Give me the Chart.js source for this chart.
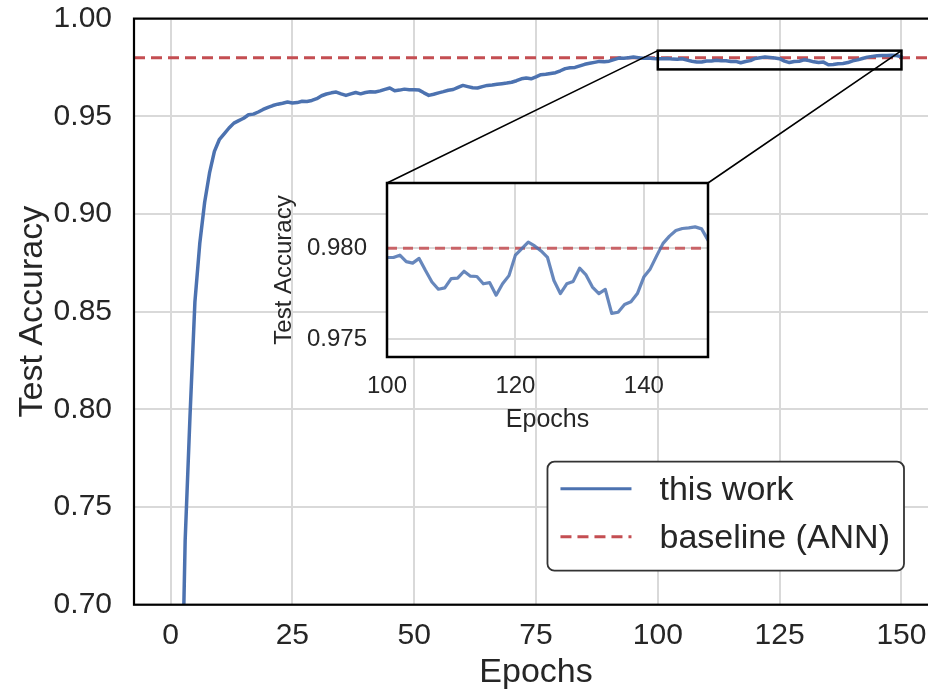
<!DOCTYPE html>
<html><head><meta charset="utf-8">
<script src="https://cdn.jsdelivr.net/npm/chart.js@4.4.0/dist/chart.umd.min.js"></script>
<style>
html,body{margin:0;padding:0;background:#fff;overflow:hidden;width:928px;height:697px;}
#wrap{position:relative;width:928px;height:697px;overflow:hidden;}
#main{position:absolute;left:0;top:0;}
#inset{position:absolute;left:250px;top:170px;}
</style></head><body>
<div id="wrap"><canvas id="main" width="940" height="697"></canvas><canvas id="inset" width="480" height="280"></canvas></div>
<script>
// ---------------- data ----------------
const seriesLabels = ['this work', 'baseline (ANN)'];
const firstEpoch = 1;
const testAccuracy = [
  0.400,0.610,0.733,0.797,0.855,0.885,0.906,0.921,0.932,0.938,
  0.941,0.944,0.9465,0.9478,0.9490,0.9508,0.9511,0.9522,0.9535,0.9546,
  0.9555,0.9562,0.9567,0.9573,0.9568,0.9570,0.9577,0.9576,0.9581,0.9590,
  0.9605,0.9614,0.9620,0.9624,0.9615,0.9607,0.9615,0.9622,0.9615,0.9622,
  0.9626,0.9624,0.9630,0.9638,0.9645,0.9631,0.9634,0.9639,0.9636,0.9636,
  0.9634,0.9620,0.9607,0.9613,0.9620,0.9626,0.9633,0.9637,0.9648,0.9658,
  0.9652,0.9646,0.9645,0.9652,0.9658,0.9660,0.9664,0.9667,0.9670,0.9674,
  0.9682,0.9692,0.9696,0.9692,0.9702,0.9713,0.9715,0.9719,0.9723,0.9733,
  0.9744,0.9748,0.9750,0.9758,0.9766,0.9771,0.9776,0.9781,0.9779,0.9782,
  0.9790,0.9798,0.9797,0.9800,0.9803,0.9800,0.9797,0.9798,0.9796,0.97949,
  0.97949,0.97962,0.97926,0.97918,0.97944,0.97877,0.97814,0.97774,0.97781,0.97832,
  0.97835,0.97873,0.97846,0.97844,0.97804,0.97810,0.97741,0.97804,0.97849,0.97962,
  0.97998,0.98034,0.98013,0.97985,0.97949,0.97822,0.97750,0.97804,0.97817,0.97890,
  0.97853,0.97786,0.97750,0.97773,0.97641,0.97647,0.97690,0.97705,0.97750,0.97841,
  0.97886,0.97958,0.98027,0.98067,0.98098,0.98109,0.98112,0.98118,0.98107,0.98045
];
const epochs = testAccuracy.map((_, i) => firstEpoch + i);
const baselineAccuracy = 0.98;

const mainXTicks = [0, 25, 50, 75, 100, 125, 150];
const mainYTicks = [0.70, 0.75, 0.80, 0.85, 0.90, 0.95, 1.00];
const mainXRange = [-7.5, 157.5];
const mainYRange = [0.70, 1.00];

const insetXTicks = [100, 120, 140];
const insetYTicks = [0.975, 0.980];
const insetXRange = [100, 150];
const insetYRange = [0.9740, 0.9836];

// ---------------- style ----------------
const FONT = "'Liberation Sans', Arial, Helvetica, sans-serif";
const TEXT = '#262626';
const GRID = '#d9d9d9';
const BLUE = '#4C72B0';
const RED = '#C44E52';

const toXY = (xs, ys) => xs.map((x, i) => ({x: x, y: ys[i]}));
const fixedTicks = arr => (s => { s.ticks = arr.map(v => ({value: v})); });
const fitW = w => (s => { s.width = w; s.paddingTop = 0; s.paddingBottom = 0; s.paddingLeft = 0; s.paddingRight = 0; });
const fitH = h => (s => { s.height = h; s.paddingTop = 0; s.paddingBottom = 0; s.paddingLeft = 0; s.paddingRight = 0; });

// ---------------- inset chart ----------------
const insetEpochs = epochs.filter(e => e >= insetXRange[0] && e <= insetXRange[1]);
const insetAcc = testAccuracy.filter((_, i) => epochs[i] >= insetXRange[0] && epochs[i] <= insetXRange[1]);

const insetPlugin = {
  id: 'insetFrame',
  beforeDraw(chart) {
    const {ctx, chartArea: a} = chart;
    ctx.save();
    ctx.fillStyle = '#fff';
    ctx.fillRect(a.left, a.top, a.right - a.left, a.bottom - a.top);
    ctx.restore();
  },
  afterDatasetsDraw(chart) {
    const {ctx, chartArea: a} = chart;
    ctx.save();
    ctx.strokeStyle = '#000';
    ctx.lineWidth = 2.5;
    ctx.strokeRect(a.left, a.top, a.right - a.left, a.bottom - a.top);
    ctx.restore();
  }
};

const insetCanvas = document.getElementById('inset');
const insetChart = new Chart(insetCanvas, {
  type: 'line',
  data: {
    datasets: [
      { label: seriesLabels[0], data: toXY(insetEpochs, insetAcc), borderColor: 'rgba(76,114,176,0.85)', borderWidth: 3.2, pointRadius: 0, tension: 0, borderJoinStyle: 'round', borderCapStyle: 'round' },
      { label: seriesLabels[1], data: toXY(insetXRange, [baselineAccuracy, baselineAccuracy]), borderColor: 'rgba(196,78,82,0.85)', borderWidth: 3, borderDash: [10, 6], pointRadius: 0 }
    ]
  },
  options: {
    responsive: false, animation: false, devicePixelRatio: 1,
    layout: {padding: {left: 0, right: 22, top: 13, bottom: 0}},
    plugins: {legend: {display: false}, tooltip: {enabled: false}},
    scales: {
      x: {
        type: 'linear', min: insetXRange[0], max: insetXRange[1],
        afterBuildTicks: fixedTicks(insetXTicks),
        afterFit: fitH(93),
        grid: {color: GRID, lineWidth: 2, drawTicks: false},
        border: {display: false},
        ticks: {font: {family: FONT, size: 24}, color: TEXT, padding: 15, maxRotation: 0, autoSkip: false, callback: v => String(v)},
        title: {display: true, text: 'Epochs', font: {family: FONT, size: 25}, color: TEXT, padding: {top: 0, bottom: 15}}
      },
      y: {
        type: 'linear', min: insetYRange[0], max: insetYRange[1],
        afterBuildTicks: fixedTicks(insetYTicks),
        afterFit: fitW(137),
        grid: {color: GRID, lineWidth: 2, drawTicks: false},
        border: {display: false},
        ticks: {font: {family: FONT, size: 24}, color: TEXT, padding: 20, autoSkip: false, callback: v => v.toFixed(3)},
        title: {display: true, text: 'Test Accuracy', font: {family: FONT, size: 24}, color: TEXT, padding: {top: 20, bottom: 0}}
      }
    }
  },
  plugins: [insetPlugin]
});

// ---------------- main chart ----------------
const mainPlugin = {
  id: 'mainDecor',
  afterDatasetsDraw(chart) {
    const {ctx, chartArea: a, scales: {x, y}} = chart;
    ctx.save();
    ctx.strokeStyle = '#000';
    ctx.lineWidth = 2.2;
    ctx.strokeRect(a.left, a.top, a.right - a.left, a.bottom - a.top);
    const bx1 = x.getPixelForValue(insetXRange[0]), bx2 = x.getPixelForValue(insetXRange[1]);
    const by1 = y.getPixelForValue(insetYRange[1]), by2 = y.getPixelForValue(insetYRange[0]);
    ctx.lineWidth = 2.5;
    ctx.strokeRect(bx1, by1, bx2 - bx1, by2 - by1);
    const ia = insetChart.chartArea;
    const ox = insetCanvas.offsetLeft - chart.canvas.offsetLeft;
    const oy = insetCanvas.offsetTop - chart.canvas.offsetTop;
    ctx.lineWidth = 1.6;
    ctx.beginPath();
    ctx.moveTo(bx1, by1); ctx.lineTo(ox + ia.left, oy + ia.top);
    ctx.moveTo(bx2, by1); ctx.lineTo(ox + ia.right, oy + ia.top);
    ctx.stroke();
    ctx.restore();
  },
  afterDraw(chart) {
    const {ctx, chartArea: a} = chart;
    ctx.save();
    const fs = 34;
    ctx.font = fs + 'px ' + FONT;
    const tw = Math.max(...seriesLabels.map(t => ctx.measureText(t).width));
    const padL = 13, lineLen = 71, gap = 28, padR = 14, rowH = 48, padT = 27, padB = 34;
    const w = padL + lineLen + gap + tw + padR;
    const h = padT + rowH + padB;
    const right = a.right - 34, bottom = a.bottom - 34;
    const left = right - w, top = bottom - h;
    ctx.beginPath();
    ctx.roundRect(left, top, w, h, 7);
    ctx.fillStyle = '#fff';
    ctx.fill();
    ctx.strokeStyle = '#333';
    ctx.lineWidth = 1.8;
    ctx.stroke();
    const colors = [BLUE, RED];
    const dashes = [[], [11, 6]];
    seriesLabels.forEach((t, i) => {
      const cy = top + padT + i * rowH;
      ctx.beginPath();
      ctx.setLineDash(dashes[i]);
      ctx.strokeStyle = colors[i];
      ctx.lineWidth = 3;
      ctx.moveTo(left + padL, cy);
      ctx.lineTo(left + padL + lineLen, cy);
      ctx.stroke();
      ctx.setLineDash([]);
      ctx.fillStyle = TEXT;
      ctx.textBaseline = 'middle';
      ctx.textAlign = 'left';
      ctx.fillText(t, left + padL + lineLen + gap, cy + 2);
    });
    ctx.restore();
  }
};

const mainChart = new Chart(document.getElementById('main'), {
  type: 'line',
  data: {
    datasets: [
      { label: seriesLabels[0], data: toXY(epochs, testAccuracy), borderColor: BLUE, borderWidth: 3.5, pointRadius: 0, tension: 0, borderJoinStyle: 'round', borderCapStyle: 'round' },
      { label: seriesLabels[1], data: toXY(mainXRange, [baselineAccuracy, baselineAccuracy]), borderColor: RED, borderWidth: 3, borderDash: [11, 6], pointRadius: 0 }
    ]
  },
  options: {
    responsive: false, animation: false, devicePixelRatio: 1,
    layout: {padding: {left: 0, right: 2, top: 18.6, bottom: 0}},
    plugins: {legend: {display: false}, tooltip: {enabled: false}},
    scales: {
      x: {
        type: 'linear', min: mainXRange[0], max: mainXRange[1],
        afterBuildTicks: fixedTicks(mainXTicks),
        afterFit: fitH(92.3),
        grid: {color: GRID, lineWidth: 2, drawTicks: false},
        border: {display: false},
        ticks: {font: {family: FONT, size: 30}, color: TEXT, padding: 13, maxRotation: 0, autoSkip: false, callback: v => String(v)},
        title: {display: true, text: 'Epochs', font: {family: FONT, size: 34}, color: TEXT, padding: {top: 0, bottom: 4}}
      },
      y: {
        type: 'linear', min: mainYRange[0], max: mainYRange[1],
        afterBuildTicks: fixedTicks(mainYTicks),
        afterFit: fitW(134),
        grid: {color: GRID, lineWidth: 2, drawTicks: false},
        border: {display: false},
        ticks: {font: {family: FONT, size: 30}, color: TEXT, padding: 22, autoSkip: false, callback: v => v.toFixed(2)},
        title: {display: true, text: 'Test Accuracy', font: {family: FONT, size: 34}, color: TEXT, padding: {top: 12, bottom: 0}}
      }
    }
  },
  plugins: [mainPlugin]
});
</script>
</body></html>
